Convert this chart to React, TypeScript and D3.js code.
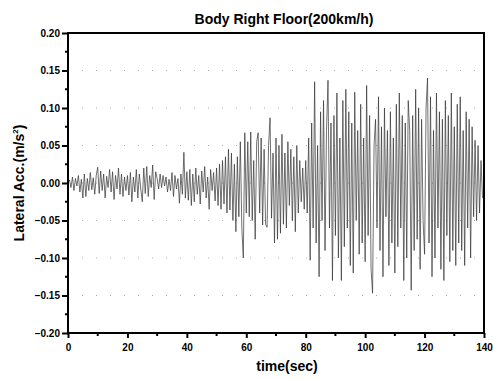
import React from 'react'
import * as d3 from 'd3'

// lateral acceleration samples, one every 0.5 s starting at t = 0
const sampleStep = 0.5
const accValues = [
  // 0 - 10 s
  0.000, 0.004, -0.006, 0.008, -0.010, 0.006, -0.004, 0.010, -0.012, 0.005,
  -0.020, 0.012, -0.018, 0.006, -0.010, 0.014, -0.009, 0.007, -0.015, 0.010,
  // 10 - 20 s
  0.021, -0.014, 0.016, -0.010, 0.012, -0.020, 0.009, -0.006, 0.018, -0.012,
  0.015, -0.022, 0.010, -0.008, 0.020, -0.015, 0.012, -0.018, 0.008, -0.010,
  // 20 - 30 s
  0.010, -0.016, 0.014, -0.025, 0.008, -0.012, 0.018, -0.020, 0.012, -0.008,
  -0.025, 0.020, -0.014, 0.022, -0.018, 0.010, -0.006, 0.024, -0.022, 0.015,
  // 30 - 40 s
  0.006, -0.008, 0.012, -0.006, 0.010, -0.004, 0.008, -0.012, 0.005, -0.010,
  0.014, -0.018, 0.010, -0.008, 0.006, -0.027, 0.012, -0.015, 0.041, -0.020,
  // 40 - 50 s
  0.015, -0.023, 0.018, -0.030, 0.012, -0.025, 0.020, -0.015, 0.010, -0.028,
  0.016, -0.012, 0.022, -0.020, 0.008, -0.035, 0.018, -0.010, 0.014, -0.024,
  // 50 - 60 s
  0.020, -0.030, 0.025, -0.035, 0.030, -0.028, 0.035, -0.040, 0.045, -0.036,
  0.040, -0.050, 0.025, -0.065, 0.035, -0.045, 0.055, -0.060, -0.100, 0.067,
  // 60 - 70 s
  -0.040, 0.055, -0.045, 0.068, -0.050, 0.030, -0.075, 0.055, 0.067, -0.040,
  0.060, -0.056, 0.045, -0.055, -0.059, 0.050, 0.087, -0.047, 0.040, -0.080,
  // 70 - 80 s
  0.060, -0.075, 0.050, -0.067, 0.065, -0.055, 0.040, -0.060, 0.055, -0.030,
  0.045, -0.050, 0.035, -0.065, 0.050, -0.040, 0.030, -0.025, 0.020, -0.035,
  // 80 - 90 s
  0.030, -0.040, 0.060, -0.103, 0.080, -0.060, 0.135, -0.080, 0.050, -0.125,
  0.095, -0.050, 0.110, -0.090, 0.070, 0.137, -0.060, 0.080, -0.130, 0.090,
  // 90 - 100 s
  -0.070, 0.120, -0.100, 0.060, -0.130, 0.110, -0.085, 0.125, -0.060, 0.095,
  -0.110, 0.080, -0.120, 0.121, -0.050, 0.070, -0.095, 0.105, -0.080, 0.060,
  // 100 - 110 s
  -0.105, 0.130, -0.070, 0.090, -0.115, -0.147, 0.050, 0.085, -0.060, 0.115,
  -0.090, 0.075, -0.125, 0.100, -0.045, 0.070, -0.110, 0.095, -0.080, 0.060,
  // 110 - 120 s
  -0.120, 0.105, -0.085, 0.120, -0.060, 0.090, -0.130, 0.080, -0.100, 0.110,
  0.070, -0.143, 0.090, -0.090, 0.125, -0.075, 0.100, -0.115, 0.085, -0.050,
  // 120 - 130 s
  -0.095, 0.100, 0.140, -0.080, 0.115, -0.125, 0.070, -0.100, 0.120, -0.060,
  0.095, -0.115, 0.085, -0.130, 0.110, -0.070, 0.090, -0.105, 0.120, -0.090,
  // 130 - 140 s
  0.075, -0.110, 0.105, -0.080, 0.115, -0.090, 0.070, -0.110, 0.095, -0.060,
  0.085, -0.100, 0.075, -0.045, 0.057, -0.050, 0.050, -0.040, 0.030, -0.020,
]

const xTicks = [0, 20, 40, 60, 80, 100, 120, 140]
const yTicks = [-0.2, -0.15, -0.1, -0.05, 0, 0.05, 0.1, 0.15, 0.2]

const chartTitle = 'Body Right Floor(200km/h)'
const xLabel = 'time(sec)'

function App() {
  const svgRef = React.useRef(null)
  const width = 493
  const height = 379
  const margin = { top: 33, right: 9, bottom: 46, left: 68 }

  React.useEffect(() => {
    const svg = d3.select(svgRef.current)
    svg.selectAll('*').remove()

    const font = "'Liberation Sans', Arial, sans-serif"

    const xScale = d3
      .scaleLinear()
      .domain([0, 140])
      .range([margin.left, width - margin.right])

    const yScale = d3
      .scaleLinear()
      .domain([-0.2, 0.2])
      .range([height - margin.bottom, margin.top])

    svg.append('rect').attr('width', width).attr('height', height).attr('fill', 'white')

    // faint dotted grid
    const grid = svg.append('g').attr('stroke', '#aaa').attr('stroke-width', 1).attr('stroke-dasharray', '1,13')
    yTicks.slice(1, -1).forEach((v) => {
      grid
        .append('line')
        .attr('x1', xScale(0))
        .attr('x2', xScale(140))
        .attr('y1', yScale(v))
        .attr('y2', yScale(v))
    })

    // signal
    const line = d3
      .line<number>()
      .x((d, i) => xScale(i * sampleStep))
      .y((d) => yScale(d))

    svg
      .append('path')
      .datum(accValues)
      .attr('d', line)
      .attr('fill', 'none')
      .attr('stroke', '#333')
      .attr('stroke-width', 0.7)

    // X Axis
    const xAxis = svg
      .append('g')
      .attr('transform', `translate(0, ${height - margin.bottom})`)
      .call(d3.axisBottom(xScale).tickValues(xTicks).tickSize(5).tickPadding(6).tickFormat(d3.format('d')))
    xAxis
      .append('g')
      .selectAll('line')
      .data(d3.range(10, 140, 20))
      .enter()
      .append('line')
      .attr('x1', (d) => xScale(d))
      .attr('x2', (d) => xScale(d))
      .attr('y1', 0)
      .attr('y2', 3)
      .attr('stroke', 'black')
      .attr('stroke-width', 2)

    // Y Axis
    const yAxis = svg
      .append('g')
      .attr('transform', `translate(${margin.left}, 0)`)
      .call(d3.axisLeft(yScale).tickValues(yTicks).tickSize(6).tickPadding(2).tickFormat(d3.format('.2f')))
    yAxis
      .append('g')
      .selectAll('line')
      .data(d3.range(-0.175, 0.2, 0.05))
      .enter()
      .append('line')
      .attr('x1', 0)
      .attr('x2', -3)
      .attr('y1', (d) => yScale(d))
      .attr('y2', (d) => yScale(d))
      .attr('stroke', 'black')
      .attr('stroke-width', 2)

    svg.selectAll('.domain').remove()
    svg.selectAll('.tick line').attr('stroke', 'black').attr('stroke-width', 2)
    svg
      .selectAll('.tick text')
      .attr('font-family', font)
      .attr('font-weight', 'bold')
      .attr('font-size', 10)
      .attr('fill', 'black')

    // frame
    svg
      .append('rect')
      .attr('x', xScale(0))
      .attr('y', yScale(0.2))
      .attr('width', xScale(140) - xScale(0))
      .attr('height', yScale(-0.2) - yScale(0.2))
      .attr('fill', 'none')
      .attr('stroke', 'black')
      .attr('stroke-width', 2)

    // Title
    svg
      .append('text')
      .attr('x', 284)
      .attr('y', 24)
      .attr('text-anchor', 'middle')
      .attr('font-family', font)
      .attr('font-weight', 'bold')
      .attr('font-size', 14)
      .text(chartTitle)

    // X Axis Label
    svg
      .append('text')
      .attr('x', 287)
      .attr('y', 371)
      .attr('text-anchor', 'middle')
      .attr('font-family', font)
      .attr('font-weight', 'bold')
      .attr('font-size', 14)
      .text(xLabel)

    // Y Axis Label
    const yl = svg
      .append('text')
      .attr('text-anchor', 'middle')
      .attr('transform', `translate(24, 183) rotate(-90)`)
      .attr('font-family', font)
      .attr('font-weight', 'bold')
      .attr('font-size', 14)
    yl.append('tspan').text('Lateral Acc.(m/s')
    yl.append('tspan').attr('font-size', 8).attr('dy', -6).text('2')
    yl.append('tspan').attr('dy', 6).text(')')
  }, [])

  return (
    <svg
      ref={svgRef}
      width={width}
      height={height}
      style={{ position: 'absolute', left: 0, top: 0 }}
    ></svg>
  )
}

export default App
